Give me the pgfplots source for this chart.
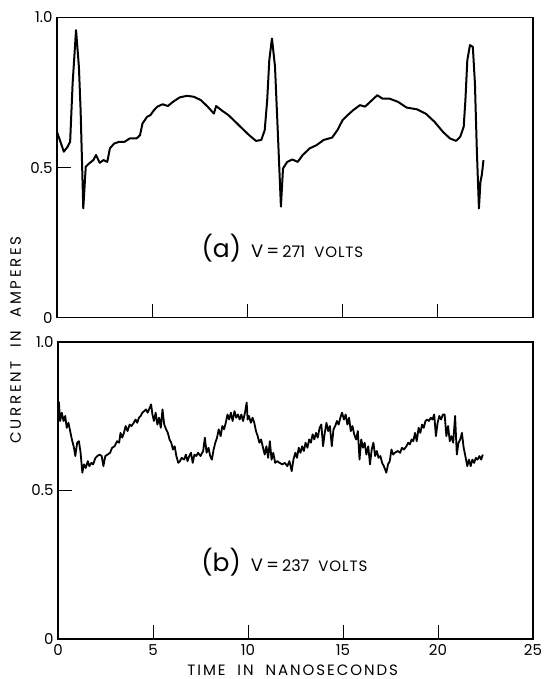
\documentclass[border=0pt]{standalone}
\usepackage{fontspec}
\setmainfont{Poppins}
\usepackage{pgfplots}
\pgfplotsset{compat=1.18}
\pgfplotsset{osc/.style={
  scale only axis, xmin=0, xmax=25, ymin=0, ymax=1,
  axis line style={line width=1.1pt},
  tick pos=left, tick align=inside,
  major tick length=14pt,
  every tick/.style={line width=0.9pt, black},
  ytick={0.5}, yticklabels={0.5},
  extra y ticks={0,1}, extra y tick labels={0,1.0},
  extra y tick style={major tick length=0pt},
  /pgf/number format/assume math mode=true,
  ticklabel style={font=\fontsize{15}{15}\selectfont},
  yticklabel style={xshift=-1pt},
  clip=false,
}}
\begin{document}
\begin{tikzpicture}
\path[use as bounding box] (0pt,0pt) rectangle (543pt,679pt);
% top axis
\begin{axis}[osc, at={(57pt,361.3pt)}, anchor=south west, width=476pt, height=300.2pt,
  xtick={5,10,15,20}, xticklabels={}]
\addplot[black, line width=2pt, line join=round, no marks] coordinates {
(0,0.619)(0.36,0.553)(0.55,0.569)(0.69,0.586)(0.82,0.78)(1.0,0.958)(1.15,0.836)(1.24,0.691)(1.38,0.364)(1.51,0.503)(1.69,0.514)(1.91,0.525)(2.05,0.542)(2.24,0.516)(2.45,0.525)(2.64,0.519)(2.78,0.564)(3.0,0.58)(3.27,0.586)(3.55,0.586)(3.82,0.597)(4.18,0.597)(4.36,0.608)(4.49,0.647)(4.73,0.669)(4.91,0.675)(5.09,0.691)(5.27,0.703)(5.55,0.711)(5.82,0.705)(6.09,0.719)(6.45,0.734)(6.82,0.739)(7.18,0.736)(7.55,0.725)(7.91,0.703)(8.24,0.68)(8.36,0.705)(8.64,0.691)(9.0,0.675)(9.36,0.653)(9.73,0.63)(10.09,0.608)(10.45,0.589)(10.73,0.592)(10.91,0.625)(11.04,0.725)(11.15,0.858)(11.29,0.93)(11.45,0.836)(11.6,0.614)(11.76,0.37)(11.87,0.497)(12.09,0.519)(12.36,0.527)(12.64,0.519)(12.91,0.542)(13.27,0.564)(13.64,0.575)(14.0,0.592)(14.45,0.6)(14.73,0.625)(15.0,0.658)(15.27,0.675)(15.55,0.691)(15.91,0.708)(16.18,0.703)(16.45,0.719)(16.82,0.741)(17.09,0.73)(17.45,0.73)(17.91,0.719)(18.36,0.7)(18.91,0.694)(19.36,0.68)(19.82,0.653)(20.27,0.619)(20.64,0.597)(20.96,0.589)(21.18,0.603)(21.36,0.636)(21.45,0.725)(21.55,0.858)(21.69,0.908)(21.84,0.902)(21.95,0.78)(22.05,0.558)(22.16,0.364)(22.24,0.453)(22.31,0.475)(22.4,0.525)
};
\node[anchor=west, inner sep=0pt] at (axis cs:7.58,0.232)
  {{\fontsize{25}{25}\selectfont (a)}\hspace{10pt}{\fontsize{18}{18}\selectfont V\,=\,}{\fontsize{16}{16}\selectfont 271}\hspace{9pt}{\fontsize{15}{15}\selectfont\addfontfeatures{LetterSpace=6}VOLTS}};
\end{axis}
% bottom axis
\begin{axis}[osc, at={(58pt,40pt)}, anchor=south west, width=475pt, height=297pt,
  xtick={0,5,10,15,20,25}, xticklabel style={yshift=-2pt}]
\addplot[black, line width=1.8pt, line join=round, no marks] coordinates {
(0,0.801)(0.05,0.796)(0.11,0.734)(0.20,0.762)(0.29,0.734)(0.38,0.751)(0.46,0.711)(0.55,0.728)(0.64,0.700)(0.73,0.672)(0.84,0.644)(0.91,0.616)(1.01,0.661)(1.10,0.666)(1.19,0.627)(1.28,0.560)(1.37,0.588)(1.46,0.576)(1.57,0.599)(1.65,0.582)(1.76,0.593)(1.85,0.588)(1.97,0.610)(2.07,0.616)(2.19,0.621)(2.30,0.616)(2.39,0.582)(2.49,0.616)(2.61,0.621)(2.74,0.627)(2.85,0.644)(2.98,0.649)(3.11,0.666)(3.22,0.661)(3.29,0.694)(3.38,0.678)(3.47,0.694)(3.56,0.717)(3.66,0.700)(3.77,0.722)(3.86,0.717)(3.99,0.728)(4.08,0.739)(4.17,0.728)(4.26,0.745)(4.35,0.751)(4.44,0.762)(4.53,0.767)(4.63,0.773)(4.72,0.762)(4.83,0.779)(4.90,0.790)(4.97,0.756)(5.05,0.734)(5.14,0.762)(5.23,0.722)(5.32,0.745)(5.41,0.711)(5.50,0.773)(5.59,0.722)(5.69,0.706)(5.78,0.694)(5.87,0.672)(5.96,0.661)(6.05,0.638)(6.14,0.649)(6.23,0.616)(6.33,0.593)(6.42,0.599)(6.51,0.610)(6.64,0.604)(6.73,0.621)(6.82,0.599)(6.91,0.616)(7.00,0.627)(7.09,0.593)(7.18,0.621)(7.28,0.616)(7.37,0.627)(7.50,0.616)(7.64,0.633)(7.73,0.678)(7.82,0.627)(7.92,0.644)(8.01,0.616)(8.10,0.604)(8.19,0.638)(8.28,0.661)(8.37,0.678)(8.46,0.706)(8.56,0.683)(8.65,0.717)(8.74,0.706)(8.83,0.728)(8.92,0.756)(9.01,0.739)(9.10,0.762)(9.19,0.734)(9.29,0.767)(9.38,0.745)(9.47,0.756)(9.56,0.739)(9.65,0.756)(9.74,0.734)(9.84,0.762)(9.93,0.796)(9.98,0.739)(10.05,0.751)(10.15,0.728)(10.24,0.745)(10.33,0.728)(10.42,0.700)(10.51,0.683)(10.60,0.661)(10.69,0.672)(10.79,0.644)(10.88,0.621)(10.97,0.649)(11.06,0.610)(11.15,0.666)(11.24,0.604)(11.33,0.627)(11.43,0.593)(11.54,0.599)(11.66,0.593)(11.81,0.588)(11.94,0.593)(12.07,0.582)(12.18,0.599)(12.30,0.565)(12.39,0.604)(12.49,0.627)(12.58,0.610)(12.67,0.644)(12.76,0.627)(12.85,0.649)(12.94,0.633)(13.03,0.661)(13.13,0.644)(13.22,0.672)(13.31,0.661)(13.40,0.689)(13.49,0.672)(13.58,0.694)(13.67,0.678)(13.77,0.711)(13.86,0.722)(13.95,0.649)(14.04,0.694)(14.13,0.728)(14.22,0.700)(14.31,0.717)(14.41,0.649)(14.50,0.706)(14.59,0.717)(14.68,0.734)(14.77,0.722)(14.86,0.745)(14.95,0.762)(15.05,0.739)(15.14,0.756)(15.23,0.722)(15.32,0.745)(15.41,0.700)(15.50,0.717)(15.59,0.689)(15.69,0.672)(15.78,0.700)(15.87,0.604)(15.96,0.672)(16.05,0.644)(16.14,0.661)(16.23,0.621)(16.33,0.649)(16.42,0.588)(16.51,0.638)(16.60,0.661)(16.69,0.616)(16.78,0.633)(16.87,0.610)(16.97,0.616)(17.06,0.593)(17.15,0.582)(17.28,0.560)(17.37,0.588)(17.46,0.599)(17.55,0.638)(17.64,0.621)(17.73,0.627)(17.88,0.633)(18.01,0.627)(18.10,0.644)(18.21,0.638)(18.34,0.649)(18.43,0.661)(18.52,0.655)(18.61,0.672)(18.70,0.666)(18.79,0.694)(18.88,0.666)(18.98,0.711)(19.07,0.694)(19.16,0.722)(19.25,0.711)(19.34,0.734)(19.43,0.739)(19.52,0.734)(19.62,0.745)(19.71,0.739)(19.80,0.756)(19.89,0.683)(19.98,0.728)(20.07,0.751)(20.16,0.739)(20.26,0.756)(20.35,0.756)(20.44,0.683)(20.53,0.717)(20.62,0.666)(20.71,0.683)(20.80,0.661)(20.90,0.751)(20.99,0.621)(21.08,0.661)(21.17,0.672)(21.26,0.694)(21.35,0.644)(21.44,0.616)(21.54,0.582)(21.63,0.604)(21.72,0.582)(21.81,0.604)(21.90,0.593)(21.99,0.610)(22.08,0.604)(22.18,0.616)(22.27,0.604)(22.36,0.621)
};
\node[anchor=west, inner sep=0pt] at (axis cs:7.53,0.26)
  {{\fontsize{25}{25}\selectfont (b)}\hspace{10pt}{\fontsize{18}{18}\selectfont V\,=\,}{\fontsize{16}{16}\selectfont 237}\hspace{9pt}{\fontsize{15}{15}\selectfont\addfontfeatures{LetterSpace=6}VOLTS}};
\end{axis}
\node[rotate=90, font=\fontsize{15}{15}\selectfont] at (15.6pt,339pt) {\addfontfeatures{LetterSpace=18}CURRENT\ \ IN\ \ AMPERES};
\node[font=\fontsize{15}{15}\selectfont, anchor=base, inner sep=0pt] at (292.6pt,4pt) {\addfontfeatures{LetterSpace=13}TIME\ \ IN\ \ NANOSECONDS};
\end{tikzpicture}
\end{document}
